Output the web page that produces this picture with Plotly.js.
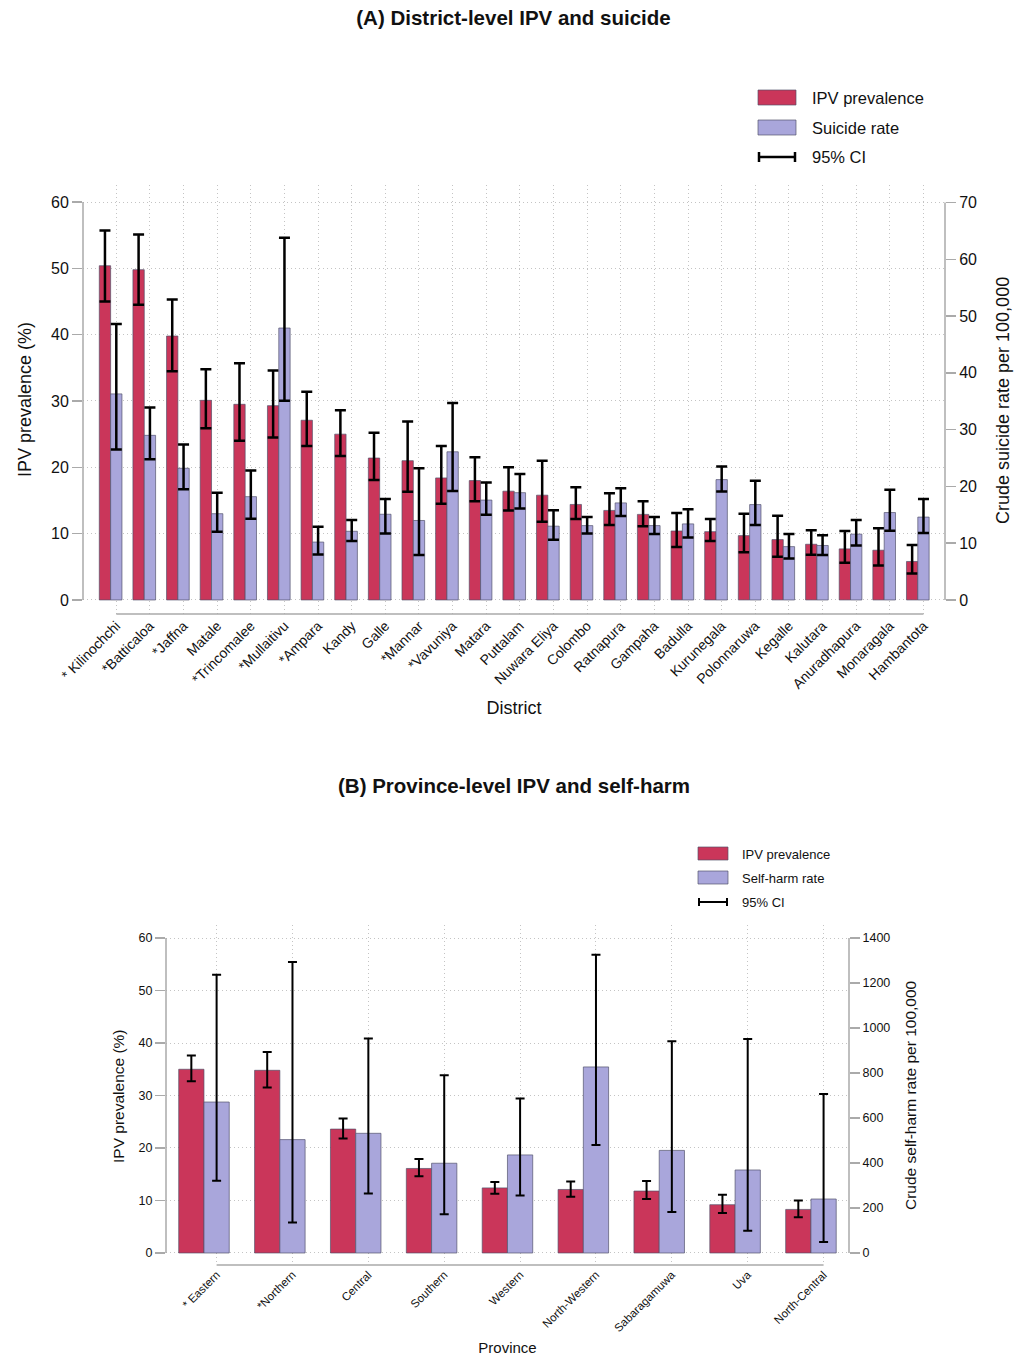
<!DOCTYPE html>
<html>
<head>
<meta charset="utf-8">
<script src="https://cdn.plot.ly/plotly-3.0.1.min.js"></script>
<style>html,body{margin:0;padding:0;background:#fff;} #chart{width:1027px;height:1356px;}</style>
</head>
<body>
<div id="chart"></div>
<script>
// ---- Data: (A) districts ----
const districts = ["* Kilinochchi","*Batticaloa","*Jaffna","Matale","*Trincomalee","*Mullaitivu","*Ampara","Kandy","Galle","*Mannar","*Vavuniya","Matara","Puttalam","Nuwara Eliya","Colombo","Ratnapura","Gampaha","Badulla","Kurunegala","Polonnaruwa","Kegalle","Kalutara","Anuradhapura","Monaragala","Hambantota"];
const ipvDistrict   = [50.4,49.8,39.8,30.1,29.5,29.3,27.1,25.0,21.4,21.0,18.4,18.0,16.4,15.8,14.4,13.5,12.9,10.4,10.3,9.7,9.1,8.4,7.7,7.5,5.8];
const ipvDistrictHi = [55.7,55.1,45.3,34.8,35.7,34.6,31.4,28.6,25.2,26.9,23.2,21.5,20.0,21.0,17.0,16.1,14.9,13.1,12.2,13.0,12.7,10.5,10.4,10.8,8.3];
const ipvDistrictLo = [45.0,44.5,34.5,25.9,24.0,24.5,23.2,21.7,18.1,16.3,14.5,14.9,13.5,11.8,12.2,11.3,11.1,8.0,8.9,7.2,6.5,6.8,5.6,5.2,4.0];
const suicide   = [36.3,29.0,23.2,15.2,18.2,47.9,10.2,12.1,15.1,14.0,26.1,17.6,18.9,13.0,13.1,17.1,13.1,13.4,21.2,16.8,9.4,9.6,11.6,15.4,14.6];
const suicideHi = [48.6,33.9,27.4,18.9,22.8,63.8,12.9,14.1,17.8,23.2,34.7,20.7,22.2,15.8,14.6,19.7,14.6,16.0,23.5,21.0,11.6,11.4,14.1,19.4,17.8];
const suicideLo = [26.5,24.8,19.5,12.0,14.3,35.1,8.0,10.4,11.7,7.9,19.2,15.0,16.1,10.6,11.7,14.8,11.6,11.0,19.1,13.2,7.3,7.9,9.6,12.2,11.8];

// ---- Data: (B) provinces ----
const provinces = ["* Eastern","*Northern","Central","Southern","Western","North-Western","Sabaragamuwa","Uva","North-Central"];
const ipvProv   = [35.0,34.8,23.6,16.1,12.4,12.1,11.8,9.2,8.3];
const ipvProvHi = [37.6,38.3,25.6,17.9,13.5,13.6,13.7,11.1,10.0];
const ipvProvLo = [32.7,31.5,21.8,14.6,11.3,10.7,10.3,7.6,6.8];
const selfharm   = [671,504,532,399,436,827,456,369,240];
const selfharmHi = [1237,1293,953,790,687,1326,941,951,707];
const selfharmLo = [321,136,264,172,256,480,182,99,49];

// ---- Ticks ----
const ticksIPV = [0,10,20,30,40,50,60];
const ticksSuicide = [0,10,20,30,40,50,60,70];
const ticksSelfharm = [0,200,400,600,800,1000,1200,1400];

// ---- Style ----
const W = 1027, H = 1356;
const RED = '#CA365A', BLUE = '#A9A6DB';
const OUT = 'rgba(80,80,105,0.85)';
const FONT = '"Liberation Sans", Arial, sans-serif';
const AXC = '#aaaaaa', GRID = '#c4c4c4', GDASH = '1px,3px';
const px = x => x / W, py = y => 1 - y / H;

const up = (v, hi) => v.map((d, i) => hi[i] - d);
const dn = (v, lo) => v.map((d, i) => d - lo[i]);

const wA = 0.337, wB = 0.333;

const traces = [
  {type:'bar', x:districts, y:ipvDistrict, xaxis:'x', yaxis:'y', width:wA, offset:-1.5*wA,
   marker:{color:RED, line:{color:OUT, width:0.8}}, name:'IPV prevalence', showlegend:false,
   error_y:{type:'data', array:up(ipvDistrict, ipvDistrictHi), arrayminus:dn(ipvDistrict, ipvDistrictLo), color:'#000', thickness:2.5, width:5.5}},
  {type:'bar', x:districts, y:suicide, xaxis:'x', yaxis:'y2', width:wA, offset:-0.5*wA,
   marker:{color:BLUE, line:{color:OUT, width:0.8}}, name:'Suicide rate', showlegend:false,
   error_y:{type:'data', array:up(suicide, suicideHi), arrayminus:dn(suicide, suicideLo), color:'#000', thickness:2.5, width:5.5}},
  {type:'bar', x:provinces, y:ipvProv, xaxis:'x2', yaxis:'y3', width:wB, offset:-1.5*wB,
   marker:{color:RED, line:{color:OUT, width:0.8}}, name:'IPV prevalence', showlegend:false,
   error_y:{type:'data', array:up(ipvProv, ipvProvHi), arrayminus:dn(ipvProv, ipvProvLo), color:'#000', thickness:2, width:4.5}},
  {type:'bar', x:provinces, y:selfharm, xaxis:'x2', yaxis:'y4', width:wB, offset:-0.5*wB,
   marker:{color:BLUE, line:{color:OUT, width:0.8}}, name:'Self-harm rate', showlegend:false,
   error_y:{type:'data', array:up(selfharm, selfharmHi), arrayminus:dn(selfharm, selfharmLo), color:'#000', thickness:2, width:4.5}}
];

const dA = {x:[px(83), px(945)], y:[py(614), py(185)]};
const dB = {x:[px(166), px(849)], y:[py(1265), py(925)]};

function yAx(o) {
  return Object.assign({
    showline:false, zeroline:false, ticks:'outside', ticklen:10, tickcolor:AXC, tickwidth:1.5,
    tickmode:'array', color:'#111', automargin:false, fixedrange:true
  }, o);
}

function vTitle(text, x, y, size) {
  return {text:text, xref:'paper', yref:'paper', x:px(x), y:py(y), xanchor:'center', yanchor:'middle',
          textangle:-90, showarrow:false, font:{size:size, color:'#111'}};
}
function legText(text, x, y, size) {
  return {text:text, xref:'paper', yref:'paper', x:px(x), y:py(y), xanchor:'left', yanchor:'middle',
          showarrow:false, font:{size:size, color:'#111'}};
}

const layout = {
  width:W, height:H, margin:{l:0,r:0,t:0,b:0}, paper_bgcolor:'#fff', plot_bgcolor:'#fff',
  font:{family:FONT, color:'#111'}, barmode:'overlay', showlegend:false,
  title:{text:'<b>(A) District-level IPV and suicide</b>', x:0.5, xanchor:'center', y:py(18), yanchor:'middle', yref:'container', font:{size:20.5, color:'#111'}},
  xaxis:{domain:dA.x, anchor:'y', type:'category', range:[-0.99, 24.64], showgrid:true, gridcolor:GRID, griddash:GDASH, gridwidth:1,
    showline:false, zeroline:false, ticks:'', tickangle:-45, tickfont:{size:14}, automargin:false,
    title:{text:'District', font:{size:18}, standoff:10}},
  yaxis:yAx({domain:dA.y, anchor:'x', range:[-2.12, 62.57], tickvals:ticksIPV, showgrid:true, gridcolor:GRID, griddash:GDASH,
    tickfont:{size:16}}),
  yaxis2:yAx({overlaying:'y', side:'right', anchor:'x', range:[-2.47, 73.09], tickvals:ticksSuicide, showgrid:false,
    tickfont:{size:16}}),
  xaxis2:{domain:dB.x, anchor:'y3', type:'category', range:[-0.667, 8.335], showgrid:true, gridcolor:GRID, griddash:GDASH, gridwidth:1,
    showline:false, zeroline:false, ticks:'', tickangle:-45, tickfont:{size:11.5}, automargin:false,
    title:{text:'Province', font:{size:15}, standoff:10}},
  yaxis3:yAx({domain:dB.y, anchor:'x2', range:[-2.29, 62.48], tickvals:ticksIPV, showgrid:true, gridcolor:GRID, griddash:GDASH,
    tickfont:{size:12.5}}),
  yaxis4:yAx({overlaying:'y3', side:'right', anchor:'x2', range:[-53.3, 1457.8], tickvals:ticksSelfharm, showgrid:false,
    tickfont:{size:12.5}}),
  shapes:[
    // axis lines (A)
    {type:'line', xref:'paper', yref:'y', x0:dA.x[0], x1:dA.x[0], y0:0, y1:60, line:{color:AXC, width:1.5}},
    {type:'line', xref:'paper', yref:'y2', x0:dA.x[1], x1:dA.x[1], y0:0, y1:70, line:{color:AXC, width:1.5}},
    {type:'line', xref:'x', yref:'y domain', x0:0, x1:districts.length-1, y0:0, y1:0, line:{color:AXC, width:1.5}},
    // axis lines (B)
    {type:'line', xref:'paper', yref:'y3', x0:dB.x[0], x1:dB.x[0], y0:0, y1:60, line:{color:AXC, width:1.5}},
    {type:'line', xref:'paper', yref:'y4', x0:dB.x[1], x1:dB.x[1], y0:0, y1:1400, line:{color:AXC, width:1.5}},
    {type:'line', xref:'x2', yref:'y3 domain', x0:0, x1:provinces.length-1, y0:0, y1:0, line:{color:AXC, width:1.5}},
    // legend (A)
    {type:'rect', xref:'paper', yref:'paper', x0:px(758), x1:px(796), y0:py(105), y1:py(90), fillcolor:RED, line:{color:OUT, width:0.8}},
    {type:'rect', xref:'paper', yref:'paper', x0:px(758), x1:px(796), y0:py(135), y1:py(120), fillcolor:BLUE, line:{color:OUT, width:0.8}},
    {type:'line', xref:'paper', yref:'paper', x0:px(759), x1:px(795), y0:py(157), y1:py(157), line:{color:'#000', width:2.5}},
    {type:'line', xref:'paper', yref:'paper', x0:px(759), x1:px(759), y0:py(152), y1:py(162), line:{color:'#000', width:2.5}},
    {type:'line', xref:'paper', yref:'paper', x0:px(795), x1:px(795), y0:py(152), y1:py(162), line:{color:'#000', width:2.5}},
    // legend (B)
    {type:'rect', xref:'paper', yref:'paper', x0:px(698), x1:px(728), y0:py(860), y1:py(847), fillcolor:RED, line:{color:OUT, width:0.8}},
    {type:'rect', xref:'paper', yref:'paper', x0:px(698), x1:px(728), y0:py(884), y1:py(871), fillcolor:BLUE, line:{color:OUT, width:0.8}},
    {type:'line', xref:'paper', yref:'paper', x0:px(699), x1:px(727), y0:py(902), y1:py(902), line:{color:'#000', width:2}},
    {type:'line', xref:'paper', yref:'paper', x0:px(699), x1:px(699), y0:py(898), y1:py(906), line:{color:'#000', width:2}},
    {type:'line', xref:'paper', yref:'paper', x0:px(727), x1:px(727), y0:py(898), y1:py(906), line:{color:'#000', width:2}}
  ],
  annotations:[
    {text:'<b>(B) Province-level IPV and self-harm</b>', xref:'paper', yref:'paper', x:0.5, y:py(785), xanchor:'center', yanchor:'middle', showarrow:false, font:{size:20.5, color:'#111'}},
    vTitle('IPV prevalence (%)', 25, 400, 18),
    vTitle('Crude suicide rate per 100,000', 1003, 401, 18),
    vTitle('IPV prevalence (%)', 118, 1096, 15.5),
    vTitle('Crude self-harm rate per 100,000', 910, 1095, 15.5),
    legText('IPV prevalence', 810, 98, 16.5),
    legText('Suicide rate', 810, 128, 16.5),
    legText('95% CI', 810, 157, 16.5),
    legText('IPV prevalence', 740, 854, 13),
    legText('Self-harm rate', 740, 878, 13),
    legText('95% CI', 740, 902, 13)
  ]
};

Plotly.newPlot('chart', traces, layout, {displayModeBar:false, staticPlot:true});
</script>
</body>
</html>
